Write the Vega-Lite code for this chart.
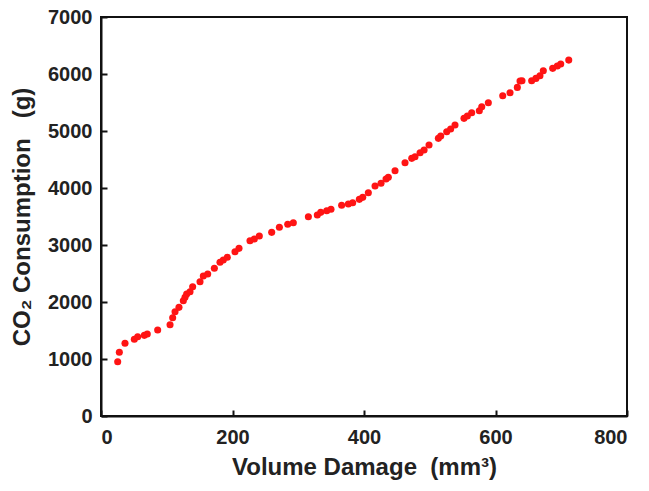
{
  "$schema": "https://vega.github.io/schema/vega-lite/v6.json",
  "description": "CO2 consumption against volume damage.",
  "width": 526,
  "height": 399,
  "autosize": {"type": "none"},
  "padding": {"left": 101, "top": 17, "right": 22, "bottom": 75},
  "data": {
    "values": [
      {"vd": 25.4, "co2": 953},
      {"vd": 27.9, "co2": 1117},
      {"vd": 36.5, "co2": 1275},
      {"vd": 50.7, "co2": 1345},
      {"vd": 55.8, "co2": 1391},
      {"vd": 65.9, "co2": 1415},
      {"vd": 70.4, "co2": 1438},
      {"vd": 86.2, "co2": 1508},
      {"vd": 105, "co2": 1601},
      {"vd": 109, "co2": 1724},
      {"vd": 112.6, "co2": 1829},
      {"vd": 118.6, "co2": 1906},
      {"vd": 125.2, "co2": 2022},
      {"vd": 127.8, "co2": 2082},
      {"vd": 130.3, "co2": 2140},
      {"vd": 135.4, "co2": 2180},
      {"vd": 139.4, "co2": 2268},
      {"vd": 150.6, "co2": 2356},
      {"vd": 155.6, "co2": 2456},
      {"vd": 162.3, "co2": 2491},
      {"vd": 172.4, "co2": 2591},
      {"vd": 181, "co2": 2696},
      {"vd": 186, "co2": 2736},
      {"vd": 192.1, "co2": 2784},
      {"vd": 203.8, "co2": 2882},
      {"vd": 209.9, "co2": 2941},
      {"vd": 226.6, "co2": 3075},
      {"vd": 233.2, "co2": 3105},
      {"vd": 240.8, "co2": 3157},
      {"vd": 259.6, "co2": 3222},
      {"vd": 271.3, "co2": 3310},
      {"vd": 284, "co2": 3363},
      {"vd": 292.5, "co2": 3391},
      {"vd": 315.4, "co2": 3496},
      {"vd": 329, "co2": 3526},
      {"vd": 334.2, "co2": 3573},
      {"vd": 343.3, "co2": 3601},
      {"vd": 349.8, "co2": 3626},
      {"vd": 366, "co2": 3696},
      {"vd": 376.2, "co2": 3718},
      {"vd": 382.8, "co2": 3741},
      {"vd": 392.9, "co2": 3801},
      {"vd": 398.1, "co2": 3836},
      {"vd": 406.6, "co2": 3917},
      {"vd": 416.8, "co2": 4034},
      {"vd": 425.9, "co2": 4082},
      {"vd": 433.5, "co2": 4157},
      {"vd": 437, "co2": 4187},
      {"vd": 447.2, "co2": 4303},
      {"vd": 462.4, "co2": 4443},
      {"vd": 472.6, "co2": 4520},
      {"vd": 477.6, "co2": 4548},
      {"vd": 485.3, "co2": 4618},
      {"vd": 491.4, "co2": 4666},
      {"vd": 498.9, "co2": 4753},
      {"vd": 513.1, "co2": 4871},
      {"vd": 516.7, "co2": 4911},
      {"vd": 525.8, "co2": 4987},
      {"vd": 531.8, "co2": 5034},
      {"vd": 538.4, "co2": 5104},
      {"vd": 552.1, "co2": 5222},
      {"vd": 557.2, "co2": 5262},
      {"vd": 563.8, "co2": 5320},
      {"vd": 575.4, "co2": 5355},
      {"vd": 579.1, "co2": 5425},
      {"vd": 589.1, "co2": 5495},
      {"vd": 611, "co2": 5618},
      {"vd": 622.1, "co2": 5671},
      {"vd": 633.2, "co2": 5765},
      {"vd": 637.3, "co2": 5876},
      {"vd": 640.3, "co2": 5881},
      {"vd": 655, "co2": 5881},
      {"vd": 661.5, "co2": 5923},
      {"vd": 667.6, "co2": 5969},
      {"vd": 672.7, "co2": 6057},
      {"vd": 687, "co2": 6099},
      {"vd": 694, "co2": 6139},
      {"vd": 699.2, "co2": 6174},
      {"vd": 711.4, "co2": 6244}
    ]
  },
  "mark": {"type": "circle", "size": 50, "color": "#ff1414", "opacity": 1},
  "encoding": {
    "x": {
      "field": "vd",
      "type": "quantitative",
      "title": "Volume Damage\u00a0\u00a0(mm³)",
      "scale": {"domain": [0, 800], "nice": false},
      "axis": {"values": [0, 200, 400, 600, 800], "format": "d", "labelPadding": 17, "titlePadding": 8}
    },
    "y": {
      "field": "co2",
      "type": "quantitative",
      "title": "CO₂ Consumption\u00a0\u00a0\u00a0(g)",
      "scale": {"domain": [0, 7000], "nice": false},
      "axis": {"values": [0, 1000, 2000, 3000, 4000, 5000, 6000, 7000], "format": "d", "labelPadding": 15, "titlePadding": 13}
    }
  },
  "config": {
    "view": {"stroke": "#111", "strokeWidth": 2},
    "axis": {
      "grid": false,
      "domainColor": "#111",
      "domainWidth": 2,
      "tickColor": "#111",
      "tickWidth": 2,
      "tickSize": -6,
      "labelFont": "Liberation Sans",
      "labelFontWeight": "bold",
      "labelFontSize": 20,
      "labelColor": "#222",
      "titleFont": "Liberation Sans",
      "titleFontWeight": "bold",
      "titleFontSize": 24,
      "titleColor": "#222"
    }
  }
}
